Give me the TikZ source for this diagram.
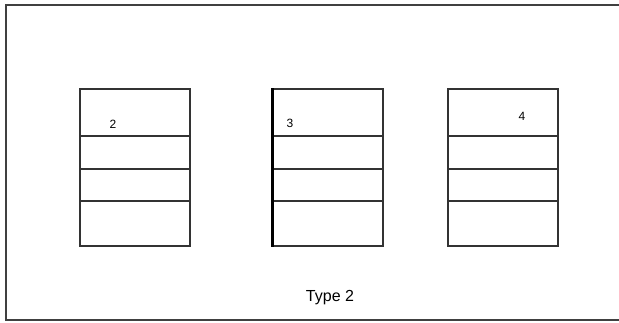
\documentclass[tikz,border=0pt]{standalone}
\usepackage{fontspec}
\setmainfont{Liberation Sans}
\begin{document}
\begin{tikzpicture}[x=1pt,y=-1pt,
  frameline/.style={draw=black!75,line width=2pt},
  stack/.style={draw=black!80,line width=1.8pt,minimum width=110pt,minimum height=157pt,inner sep=0pt,anchor=north west},
  divider/.style={draw=black!80,line width=1.7pt},
  numlabel/.style={font=\fontsize{12}{12}\selectfont,inner sep=0pt},
  caption/.style={font=\fontsize{16}{16}\selectfont,inner sep=0pt}]
\useasboundingbox (0,0) rectangle (619,322);
\fill[white] (0,0) rectangle (619,322);
% frame (cropped at right)
\draw[frameline] (625,5) -- (5.5,5) -- (5.5,320) -- (625,320);
% stacks
\node[stack] (s1) at (79,88) {};
\node[stack] (s2) at (272,88) {};
\node[stack] (s3) at (447,88) {};
\foreach \s in {s1,s2,s3}{
  \draw[divider] ([yshift=-48pt]\s.north west) -- ([yshift=-48pt]\s.north east);
  \draw[divider] ([yshift=-81pt]\s.north west) -- ([yshift=-81pt]\s.north east);
  \draw[divider] ([yshift=-113pt]\s.north west) -- ([yshift=-113pt]\s.north east);
}
\draw[black,line width=3pt] (s2.north west) -- (s2.south west);
\node[numlabel] (n2) at (113,124) {2};
\node[numlabel] (n3) at (290,123) {3};
\node[numlabel] (n4) at (522,116) {4};
\node[caption] (cap) at (330,298) {Type 2};
\end{tikzpicture}
\end{document}
